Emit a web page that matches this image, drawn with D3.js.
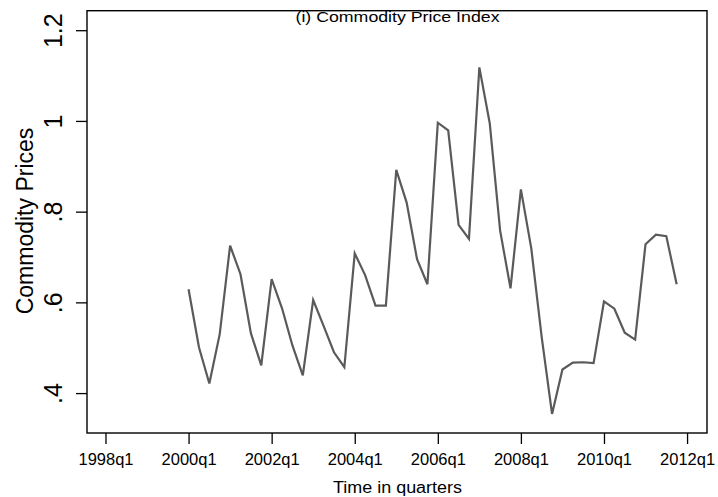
<!DOCTYPE html>
<html>
<head>
<meta charset="utf-8">
<script src="https://cdn.jsdelivr.net/npm/d3@7"></script>
<style>
  html, body { margin: 0; padding: 0; background: #fff; }
  svg { display: block; font-family: "Liberation Sans", Arial, Helvetica, sans-serif; }
</style>
</head>
<body>
<div id="chart"></div>
<script>
const WIDTH = 718;
const HEIGHT = 497;
const MARGIN = { TOP: 10.7, RIGHT: 11, BOTTOM: 64, LEFT: 87 };
const PLOT_W = WIDTH - MARGIN.LEFT - MARGIN.RIGHT;
const PLOT_H = HEIGHT - MARGIN.TOP - MARGIN.BOTTOM;

// data: quarterly commodity price index, 2000q1 .. 2011q4
const START_YEAR = 2000;
const prices = [
  0.629, 0.501, 0.421, 0.530,
  0.725, 0.662, 0.532, 0.461,
  0.651, 0.587, 0.505, 0.439,
  0.605, 0.548, 0.490, 0.457,
  0.708, 0.660, 0.593, 0.593,
  0.892, 0.820, 0.695, 0.640,
  0.996, 0.979, 0.771, 0.740,
  1.118, 0.995, 0.758, 0.631,
  0.849, 0.719, 0.524, 0.354,
  0.452, 0.467, 0.468, 0.466,
  0.602, 0.586, 0.533, 0.518,
  0.728, 0.749, 0.746, 0.640
];
const xTickYears = [1998, 2000, 2002, 2004, 2006, 2008, 2010, 2012];
const xTickLabels = ["1998q1", "2000q1", "2002q1", "2004q1", "2006q1", "2008q1", "2010q1", "2012q1"];
const yTickValues = [0.4, 0.6, 0.8, 1, 1.2];
const yTickLabels = [".4", ".6", ".8", "1", "1.2"];

const TITLE = "(i) Commodity Price Index";
const X_LABEL = "Time in quarters";
const Y_LABEL = "Commodity Prices";

const series = prices.map((v, i) => ({ t: START_YEAR + i / 4, v: v }));

const svg = d3.select("#chart")
  .append("svg")
    .attr("width", WIDTH)
    .attr("height", HEIGHT);

const g = svg.append("g")
  .attr("transform", `translate(${MARGIN.LEFT}, ${MARGIN.TOP})`);

const x = d3.scaleLinear()
  .domain([1997.555, 2012.48])
  .range([0, PLOT_W]);

const y = d3.scaleLinear()
  .domain([0.312, 1.243])
  .range([PLOT_H, 0]);

// frame
g.append("rect")
  .attr("x", 0)
  .attr("y", 0)
  .attr("width", PLOT_W)
  .attr("height", PLOT_H)
  .attr("fill", "none")
  .attr("stroke", "#000")
  .attr("stroke-width", 1.4);

// x axis
const xAxis = d3.axisBottom(x)
  .tickValues(xTickYears)
  .tickSize(11)
  .tickFormat((d, i) => xTickLabels[i]);

const xg = g.append("g")
  .attr("transform", `translate(0, ${PLOT_H})`)
  .call(xAxis);
xg.select(".domain").remove();
xg.selectAll("line").attr("stroke", "#000").attr("stroke-width", 1.3);
xg.selectAll("text")
  .attr("y", 32)
  .attr("dy", 0)
  .attr("fill", "#000")
  .attr("font-size", 16.5)
  .attr("textLength", 55)
  .attr("lengthAdjust", "spacingAndGlyphs")
  .attr("font-family", "Liberation Sans, Arial, sans-serif");

// y axis
const yAxis = d3.axisLeft(y)
  .tickValues(yTickValues)
  .tickSize(11)
  .tickFormat((d, i) => yTickLabels[i]);

const yg = g.append("g").call(yAxis);
yg.select(".domain").remove();
yg.selectAll("line").attr("stroke", "#000").attr("stroke-width", 1.3);
yg.selectAll("text")
  .attr("transform", "rotate(-90)")
  .attr("x", 0)
  .attr("y", -25)
  .attr("dy", 0)
  .attr("text-anchor", "middle")
  .attr("fill", "#000")
  .attr("font-size", 25)
  .attr("font-family", "Liberation Sans, Arial, sans-serif");

// line
const line = d3.line()
  .x(d => x(d.t))
  .y(d => y(d.v));

g.append("path")
  .datum(series)
  .attr("d", line)
  .attr("fill", "none")
  .attr("stroke", "#5a5a5a")
  .attr("stroke-width", 2.2)
  .attr("stroke-linejoin", "miter");

// title
svg.append("text")
  .attr("x", 397.5)
  .attr("y", 22)
  .attr("text-anchor", "middle")
  .attr("font-size", 15)
  .attr("textLength", 204)
  .attr("lengthAdjust", "spacingAndGlyphs")
  .text(TITLE);

// x label
svg.append("text")
  .attr("x", 397.5)
  .attr("y", 492.5)
  .attr("text-anchor", "middle")
  .attr("font-size", 16)
  .attr("textLength", 129)
  .attr("lengthAdjust", "spacingAndGlyphs")
  .text(X_LABEL);

// y label
svg.append("text")
  .attr("transform", "rotate(-90)")
  .attr("x", -221)
  .attr("y", 33)
  .attr("text-anchor", "middle")
  .attr("font-size", 23)
  .text(Y_LABEL);
</script>
</body>
</html>
